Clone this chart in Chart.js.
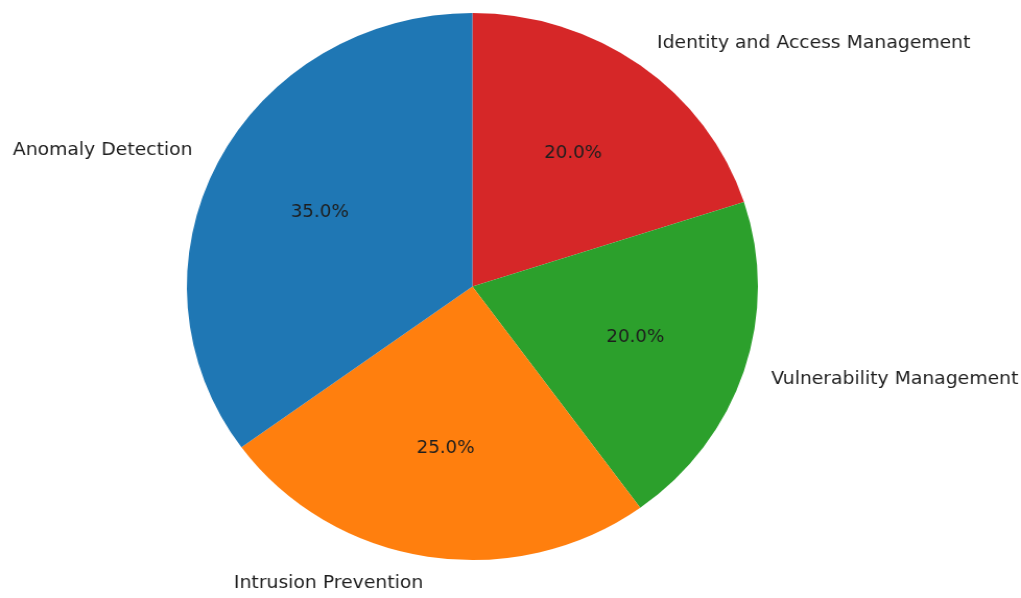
<!DOCTYPE html>
<html>
<head>
<meta charset="utf-8">
<script src="https://cdn.jsdelivr.net/npm/chart.js@4.4.0/dist/chart.umd.min.js"></script>
<style>
    html, body { margin: 0; padding: 0; background: #ffffff; overflow: hidden; }
</style>
</head>
<body>
<canvas id="pieChart" width="978" height="598" style="display:block;width:1021px;height:598px"></canvas>
<script>
// Parts des domaines, dans l'ordre anti-horaire depuis le haut
const categories = ['Anomaly Detection', 'Intrusion Prevention', 'Vulnerability Management', 'Identity and Access Management'];
const shares = [35, 25, 20, 20];
const colors = ['#1f77b4', '#ff7f0e', '#2ca02c', '#d62728'];

// Chart.js tourne dans le sens horaire : on inverse l'ordre
const labels = categories.slice().reverse();
const values = shares.slice().reverse();
const sliceColors = colors.slice().reverse();

const total = values.reduce((a, b) => a + b, 0);

// Libellés à 1.1 x rayon, pourcentages à 0.6 x rayon
const pieLabels = {
    id: 'pieLabels',
    afterDatasetsDraw(chart) {
        const ctx = chart.ctx;
        const meta = chart.getDatasetMeta(0);
        ctx.save();
        ctx.fillStyle = '#1e1e1e';
        ctx.textBaseline = 'middle';
        meta.data.forEach((arc, i) => {
            const mid = (arc.startAngle + arc.endAngle) / 2;
            const r = arc.outerRadius;
            const cx = Math.cos(mid), cy = Math.sin(mid);

            ctx.font = '18px "DejaVu Sans"';
            ctx.textAlign = cx > 0 ? 'left' : 'right';
            ctx.fillText(chart.data.labels[i], arc.x + cx * r * 1.1, arc.y + cy * r * 1.1);

            const pct = (chart.data.datasets[0].data[i] / total * 100).toFixed(1) + '%';
            ctx.font = '17.5px "DejaVu Sans"';
            ctx.textAlign = 'center';
            ctx.fillText(pct, arc.x + cx * r * 0.6, arc.y + cy * r * 0.6);
        });
        ctx.restore();
    }
};

const ctx = document.getElementById('pieChart').getContext('2d');
const pieChart = new Chart(ctx, {
    type: 'pie',
    data: {
        labels: labels,
        datasets: [{
            data: values,
            backgroundColor: sliceColors,
            borderWidth: 0
        }]
    },
    options: {
        responsive: false,
        animation: false,
        devicePixelRatio: 1,
        layout: { padding: { top: 13, bottom: 38, left: 179, right: 252 } },
        plugins: {
            legend: { display: false },
            tooltip: { enabled: false }
        }
    },
    plugins: [pieLabels]
});
</script>
</body>
</html>
